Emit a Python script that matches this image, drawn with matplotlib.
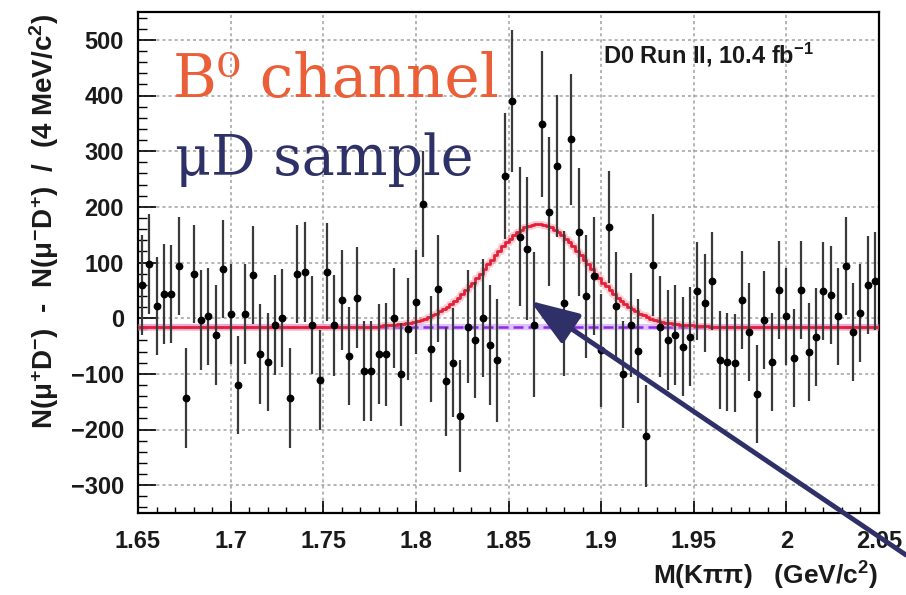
import numpy as np
import matplotlib
matplotlib.use("Agg")
import matplotlib.pyplot as plt

plt.rcParams['font.family'] = ['Liberation Sans', 'DejaVu Sans']
plt.rcParams['mathtext.fontset'] = 'custom'
plt.rcParams['mathtext.rm'] = 'Liberation Sans:bold'
plt.rcParams['mathtext.it'] = 'Liberation Sans:bold'
plt.rcParams['mathtext.bf'] = 'Liberation Sans:bold'
plt.rcParams['mathtext.sf'] = 'Liberation Sans:bold'

# ---------------- data ----------------
x_min, x_max = 1.65, 2.05
bin_width = 0.004          # GeV (4 MeV bins)

counts = [60, 98, 21, 43, 43, 93, -144, 79, -4, 3,
          -30, 88, 7, -120, 7, 77, -65, -79, -12, 1,
          -143, 79, 83, -12, -111, 83, -13, 32, -68, 37,
          -95, -95, -65, -65, 1, -101, -19, 29, 205, -56,
          53, -113, -80, -176, -15, -39, 1, -48, -76, 256,
          390, 146, 125, -12, 349, 191, 273, 27, 321, 154,
          39, 75, -58, 164, 21, -101, -12, -59, -212, 96,
          -15, -39, -30, -51, -33, 48, 27, 67, -75, -78,
          -81, 33, -24, -137, -3, -78, 51, 3, -72, 51,
          -60, -33, 48, 42, 3, 93, -24, 9, 60, 66]

errors = [90, 90, 88, 90, 88, 88, 90, 88, 90, 88,
          90, 88, 90, 88, 90, 88, 90, 88, 90, 88,
          90, 88, 90, 88, 90, 88, 90, 90, 88, 90,
          90, 90, 90, 92, 90, 92, 92, 94, 96, 95,
          96, 98, 98, 100, 102, 104, 106, 108, 110, 113,
          127, 125, 128, 130, 131, 134, 128, 130, 118, 115,
          110, 106, 102, 100, 98, 96, 94, 93, 92, 92,
          90, 90, 90, 89, 89, 88, 88, 88, 88, 88,
          88, 88, 88, 88, 88, 88, 88, 88, 88, 88,
          88, 88, 88, 88, 88, 88, 88, 88, 88, 88]

# fitted curve (2 MeV steps) in the signal region 1.780 - 1.960
fit_step = 0.002
fit_start = 1.780
background_level = -15
fit_peak = [-14, -13, -13, -13, -12, -11, -10, -9, -8, -7,
            -5, -3, -1, 2, 5, 8, 12, 16, 20, 25,
            31, 37, 43, 50, 57, 64, 72, 80, 88, 97,
            105, 113, 121, 129, 136, 143, 149, 154, 159, 163,
            166, 168, 169, 169, 168, 166, 163, 159, 154, 149,
            143, 136, 129, 121, 113, 105, 97, 88, 80, 72,
            64, 57, 50, 43, 37, 31, 25, 20, 16, 12,
            8, 5, 2, -1, -3, -5, -7, -8, -9, -10,
            -11, -12, -13, -13, -13, -14, -14, -14, -14, -15]

x_ticks = [1.65, 1.7, 1.75, 1.8, 1.85, 1.9, 1.95, 2.0, 2.05]
x_tick_labels = ["1.65", "1.7", "1.75", "1.8", "1.85", "1.9", "1.95", "2", "2.05"]
y_ticks = [-300, -200, -100, 0, 100, 200, 300, 400, 500]
y_min, y_max = -350, 550

# ---------------- figure ----------------
W, H = 906, 595
fig = plt.figure(figsize=(W / 100, H / 100), dpi=100)
ax = fig.add_axes([138 / W, 1 - 513 / H, (879 - 138) / W, (513 - 12) / H])

centers = x_min + bin_width * (np.arange(len(counts)) + 0.5)

# background line (purple)
ax.plot([x_min, x_max], [background_level, background_level], color='#d9b3ff',
        lw=4.5, alpha=0.8, zorder=2, solid_capstyle='butt')
ax.plot([x_min, x_max], [background_level, background_level], color='#8b2be6',
        lw=1.8, dashes=(4, 2), zorder=2.1)

# fit curve (red, step-like)
n_fine = int(round((x_max - x_min) / fit_step))
fine_x = x_min + fit_step * (np.arange(n_fine) + 0.5)
fine_y = np.full(n_fine, float(background_level))
i0 = int(round((fit_start - x_min) / fit_step))
fine_y[i0:i0 + len(fit_peak)] = fit_peak
ax.plot(fine_x, fine_y, drawstyle='steps-mid', color='#ff8f9c', lw=5, alpha=0.45, zorder=3)
ax.plot(fine_x, fine_y, drawstyle='steps-mid', color='#e3203a', lw=2.0, zorder=3.1)

# data points
ax.errorbar(centers, counts, yerr=errors, fmt='o', ms=4.6, color='black',
            ecolor='#3a3a3a', elinewidth=1.6, capsize=0, zorder=4)

ax.set_xlim(x_min, x_max)
ax.set_ylim(y_min, y_max)
ax.set_xticks(x_ticks)
ax.set_xticklabels(x_tick_labels)
ax.set_yticks(y_ticks)
ax.set_xticks(np.arange(1.65, 2.0501, 0.01), minor=True)
ax.set_yticks(np.arange(-340, 541, 20), minor=True)

ax.grid(True, which='major', color='#a0a0a0', lw=1.1, dashes=(2, 2))
ax.set_axisbelow(True)

for lab in ax.get_xticklabels() + ax.get_yticklabels():
    lab.set_fontweight('bold')
    lab.set_fontsize(17)
    lab.set_color('#1a1a1a')

ax.tick_params(axis='x', which='major', direction='in', length=9, width=1.2, pad=12)
ax.tick_params(axis='x', which='minor', direction='in', length=4.5, width=1.0)
ax.tick_params(axis='y', which='major', direction='in', length=13, width=1.2, pad=10)
ax.tick_params(axis='y', which='minor', direction='in', length=6.5, width=1.0)
for s in ax.spines.values():
    s.set_linewidth(1.6)

# axis titles
fig.text(44 / W, 1 - 14 / H,
         r'N($\mu^{+}$D$^{-}$)  -  N($\mu^{-}$D$^{+}$)  /  (4 MeV/c$^{2}$)',
         rotation=90, ha='center', va='top', fontsize=20, fontweight='bold', color='#1a1a1a')
fig.text(878 / W, 1 - 576 / H, r'M(K$\pi\pi$)   (GeV/c$^{2}$)',
         ha='right', va='center', fontsize=19, fontweight='bold', color='#1a1a1a')

# annotations
fig.text(603 / W, 1 - 63 / H, r'D0 Run II, 10.4 fb$^{\mathbf{-1}}$',
         ha='left', va='baseline', fontsize=17, fontweight='bold', color='#1a1a1a')
fig.text(173 / W, 1 - 97 / H, 'B⁰ channel', ha='left', va='baseline',
         fontsize=43, family='DejaVu Serif', color='#ea5f38')
fig.text(175 / W, 1 - 175 / H, 'μD sample', ha='left', va='baseline',
         fontsize=40, family='DejaVu Serif', color='#2e3068')

ax.annotate('', xy=(1.8617, 31), xycoords='data',
            xytext=(1.0, 40 / H), textcoords='figure fraction',
            arrowprops=dict(arrowstyle='-|>,head_length=1.0,head_width=0.36',
                            mutation_scale=30, lw=3.5, color='#2f3068',
                            shrinkA=0, shrinkB=0),
            annotation_clip=False, zorder=6)

fig.savefig('out.png', dpi=100, facecolor='white')
